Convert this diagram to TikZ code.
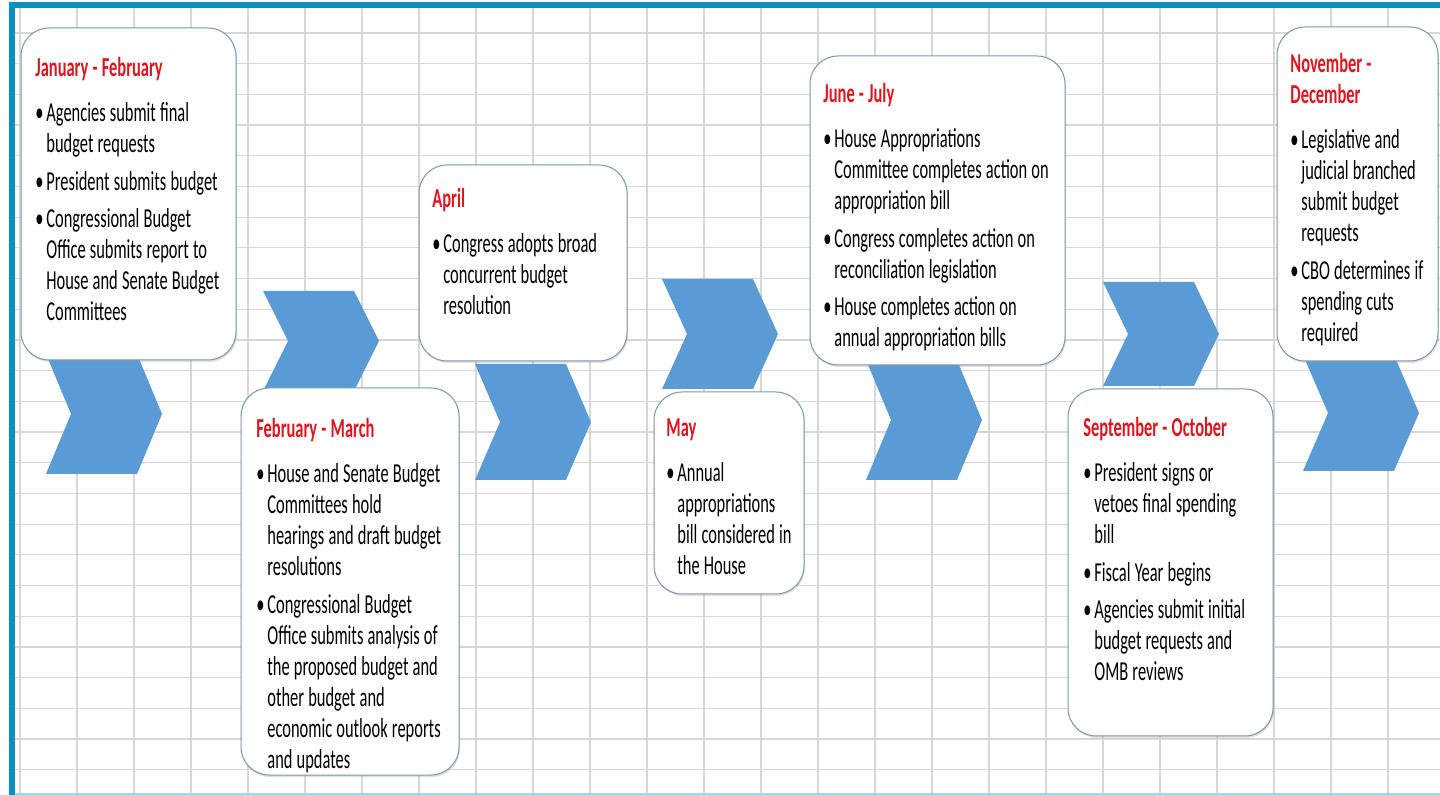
\documentclass[tikz,border=0pt]{standalone}
\usepackage{fontspec}
\setmainfont{Carlito}[FakeStretch=0.6]
\usetikzlibrary{shadows}

\definecolor{framebar}{RGB}{12,143,193}
\definecolor{framelow}{RGB}{165,215,235}
\definecolor{gridgray}{RGB}{215,215,215}
\definecolor{chevblue}{RGB}{91,155,213}
\definecolor{cardline}{RGB}{120,150,180}
\definecolor{monthred}{RGB}{225,20,30}

% one bullet line, hanging indent for the wrapped lines
\newcommand\tightspace{\spaceskip=2.1pt plus 1pt minus 0.3pt\relax}
\newcommand\bul{\par\vspace{3.2pt}\tightspace\hangindent=5.5pt\hangafter=1\noindent\makebox[5.5pt][l]{\textbullet}}
\newcommand\nl{\hfil\break}
\newcommand\monthhead[1]{\tightspace{\color{monthred}\bfseries #1}\par\vspace{3.8pt}}

\tikzset{
  card/.style={draw=cardline, line width=0.5pt, fill=white, rounded corners=14pt,
    drop shadow={shadow xshift=0.5pt, shadow yshift=-1pt, opacity=0.3, fill=black!40}},
  cardtext/.style={anchor=base west, inner sep=0pt, text width=135pt, align=left,
    font=\fontsize{13.7pt}{15.5pt}\selectfont},
  chevron/.style={fill=chevblue},
  gridline/.style={draw=gridgray, line width=0.6pt}
}

\begin{document}
\begin{tikzpicture}[x=0.5pt, y=-0.5pt]
\fill[white] (0,0) rectangle (1440,795);
\useasboundingbox (0,0) rectangle (1440,795);
% sheet grid
\foreach \gx in {0,...,24} \draw[gridline] ({20+57*\gx},8) -- ({20+57*\gx},795);
\foreach \gy in {0,...,24} \draw[gridline] (15,{33+30.7*\gy}) -- (1440,{33+30.7*\gy});
% frame
\fill[framebar] (9,2) rectangle (15,795);
\fill[framebar] (9,2) rectangle (1440,8);
\draw[framelow, line width=1pt] (15,793.5) -- (1440,793.5);
% chevrons
\fill[chevron] (46,354) -- (137,354) -- (162,414) -- (137,474) -- (46,474) -- (71,414) -- cycle;
\fill[chevron] (263,291) -- (354,291) -- (379,341) -- (354,391) -- (263,391) -- (288,341) -- cycle;
\fill[chevron] (475,364) -- (566,364) -- (591,422) -- (566,480) -- (475,480) -- (500,422) -- cycle;
\fill[chevron] (662,279) -- (753,279) -- (778,334) -- (753,389) -- (662,389) -- (687,334) -- cycle;
\fill[chevron] (866,360) -- (957,360) -- (982,420) -- (957,480) -- (866,480) -- (891,420) -- cycle;
\fill[chevron] (1103,282) -- (1194,282) -- (1219,334) -- (1194,386) -- (1103,386) -- (1128,334) -- cycle;
\fill[chevron] (1303,355) -- (1394,355) -- (1419,413) -- (1394,471) -- (1303,471) -- (1328,413) -- cycle;
% cards
\node[card, minimum width=107.5pt, minimum height=166pt] (janfeb) at (128.5,194) {};
\node[card, minimum width=109pt, minimum height=193.5pt] (febmar) at (350,581.5) {};
\node[card, minimum width=104pt, minimum height=98pt] (april) at (523,263) {};
\node[card, minimum width=75pt, minimum height=101pt] (may) at (729,493) {};
\node[card, minimum width=127.5pt, minimum height=154.5pt] (junjul) at (937.5,210.5) {};
\node[card, minimum width=102.5pt, minimum height=173.5pt] (sepoct) at (1170.5,562.5) {};
\node[card, minimum width=80.5pt, minimum height=167pt] (novdec) at (1357.5,194) {};
% card texts
\node[cardtext] (janfebtext) at (35,77) {\monthhead{January - February}
\bul Agencies submit final\nl budget requests
\bul President submits budget
\bul Congressional Budget\nl Office submits report to\nl House and Senate Budget\nl Committees\par};
\node[cardtext] (febmartext) at (256,438) {\monthhead{February - March}
\bul House and Senate Budget\nl Committees hold\nl hearings and draft budget\nl resolutions
\bul Congressional Budget\nl Office submits analysis of\nl the proposed budget and\nl other budget and\nl economic outlook reports\nl and updates\par};
\node[cardtext] (apriltext) at (432,208) {\monthhead{April}
\bul Congress adopts broad\nl concurrent budget\nl resolution\par};
\node[cardtext] (maytext) at (666,437) {\monthhead{May}
\bul Annual\nl appropriations\nl bill considered in\nl the House\par};
\node[cardtext] (junjultext) at (823,103) {\monthhead{June - July}
\bul House Appropriations\nl Committee completes action on\nl appropriation bill
\bul Congress completes action on\nl reconciliation legislation
\bul House completes action on\nl annual appropriation bills\par};
\node[cardtext] (sepocttext) at (1083,437) {\monthhead{September - October}
\bul President signs or\nl vetoes final spending\nl bill
\bul Fiscal Year begins
\bul Agencies submit initial\nl budget requests and\nl OMB reviews\par};
\node[cardtext] (novdectext) at (1290,73) {\monthhead{November -\nl December}
\bul Legislative and\nl judicial branched\nl submit budget\nl requests
\bul CBO determines if\nl spending cuts\nl required\par};
\end{tikzpicture}
\end{document}
